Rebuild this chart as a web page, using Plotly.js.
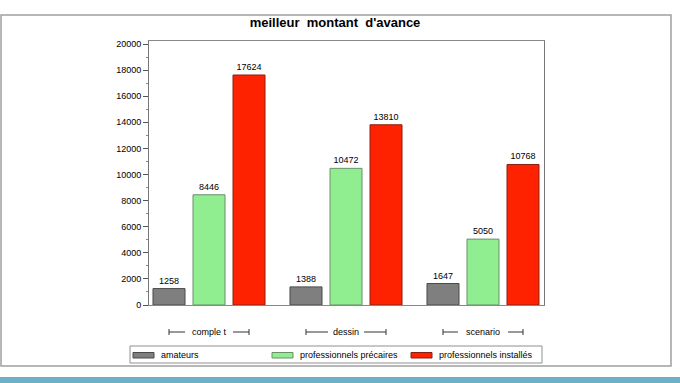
<!DOCTYPE html>
<html>
<head>
<meta charset="utf-8">
<script src="https://cdn.plot.ly/plotly-3.0.1.min.js"></script>
<style>html,body{margin:0;padding:0;background:#fff;}#chart{width:680px;height:383px;}</style>
</head>
<body>
<div id="chart"></div>
<script>
const categories = ["comple t", "dessin", "scenario"];
const seriesNames = ["amateurs", "professionnels précaires", "professionnels installés"];
const amateurs = [1258, 1388, 1647];
const precaires = [8446, 10472, 5050];
const installes = [17624, 13810, 10768];
const yTickVals = [0, 2000, 4000, 6000, 8000, 10000, 12000, 14000, 16000, 18000, 20000];

const values = [amateurs, precaires, installes];
const colors = ["#7f7f7f", "#90ee90", "#ff2200"];
const lineColors = ["#4a4a4a", "#6a8f6a", "#8a2010"];

// plot area in pixels
const W = 680, H = 383;
const L = 149, R = 544, T = 41, B = 305;
const px = x => (x - L) / (R - L);
const py = y => (B - y) / (B - T);
const FONT = "Liberation Sans, Arial, sans-serif";

const traces = values.map((v, i) => ({
  type: "bar",
  name: seriesNames[i],
  x: categories,
  y: v,
  marker: {color: colors[i], line: {color: lineColors[i], width: 1}},
  text: v.map(String),
  textposition: "outside",
  textfont: {family: FONT, size: 9, color: "#000"},
  cliponaxis: false,
  showlegend: false,
  hoverinfo: "x+y+name"
}));

const shapes = [];
const annotations = [];

// outer frame
shapes.push({type: "rect", xref: "paper", yref: "paper", x0: px(1), x1: px(671), y0: py(366), y1: py(15),
  line: {color: "#a0a0a0", width: 1.5}, fillcolor: "rgba(0,0,0,0)", layer: "below"});
// bottom teal band
shapes.push({type: "rect", xref: "paper", yref: "paper", x0: px(0), x1: px(680), y0: py(383), y1: py(377),
  line: {width: 0}, fillcolor: "#6eb0c6", layer: "below"});

// category brackets
const unit = 137; // px per category
const innerGap = [24, 18, 25];
const outerHalf = 40;
const by = py(332), byTop = py(329), byBot = py(335);
categories.forEach((c, i) => {
  const o = outerHalf / unit, g = innerGap[i] / unit;
  const ln = {color: "#333", width: 1};
  shapes.push({type: "line", xref: "x", yref: "paper", x0: i - o, x1: i - g, y0: by, y1: by, line: ln});
  shapes.push({type: "line", xref: "x", yref: "paper", x0: i + g, x1: i + o, y0: by, y1: by, line: ln});
  shapes.push({type: "line", xref: "x", yref: "paper", x0: i - o, x1: i - o, y0: byBot, y1: byTop, line: ln});
  shapes.push({type: "line", xref: "x", yref: "paper", x0: i + o, x1: i + o, y0: byBot, y1: byTop, line: ln});
});

// manual legend
shapes.push({type: "rect", xref: "paper", yref: "paper", x0: px(130), x1: px(542), y0: py(363), y1: py(346),
  line: {color: "#909090", width: 1}, fillcolor: "rgba(0,0,0,0)"});
const legX = [133, 272, 411];
seriesNames.forEach((n, i) => {
  shapes.push({type: "rect", xref: "paper", yref: "paper", x0: px(legX[i]), x1: px(legX[i] + 21), y0: py(358), y1: py(352.5),
    line: {color: lineColors[i], width: 1}, fillcolor: colors[i]});
  annotations.push({xref: "paper", yref: "paper", x: px(legX[i] + 26), y: py(355), xanchor: "left", yanchor: "middle",
    text: n, showarrow: false, font: {family: FONT, size: 9, color: "#000"}});
});

const layout = {
  width: W, height: H,
  margin: {l: L, r: W - R, t: T, b: H - B, pad: 0},
  paper_bgcolor: "#fff", plot_bgcolor: "#fff",
  title: {text: "<b>meilleur  montant  d'avance</b>", font: {family: FONT, size: 13, color: "#000"},
    x: 335 / W, xanchor: "center", y: 1 - 22 / H, yanchor: "middle"},
  barmode: "group",
  bargap: 0.124,
  bargroupgap: 0.2,
  xaxis: {
    type: "category",
    range: [-60 / unit, 2 + 61 / unit],
    showline: true, mirror: true, linecolor: "#888", linewidth: 1,
    showgrid: false, zeroline: false, ticks: "",
    ticklabelstandoff: 18,
    tickfont: {family: FONT, size: 9, color: "#000"}
  },
  yaxis: {
    range: [0, 20000 * (B - T) / (B - 44)],
    tickvals: yTickVals,
    ticktext: yTickVals.map(String),
    showline: true, mirror: true, linecolor: "#777", linewidth: 1,
    showgrid: false, zeroline: false,
    ticks: "outside", ticklen: 5, tickcolor: "#555", tickwidth: 1,
    minor: {dtick: 1000, tick0: 1000, ticks: "outside", ticklen: 2, tickcolor: "#888", showgrid: false},
    tickfont: {family: FONT, size: 9, color: "#000"}
  },
  shapes: shapes,
  annotations: annotations,
  showlegend: false
};

Plotly.newPlot("chart", traces, layout, {displayModeBar: false, staticPlot: true});
</script>
</body>
</html>
